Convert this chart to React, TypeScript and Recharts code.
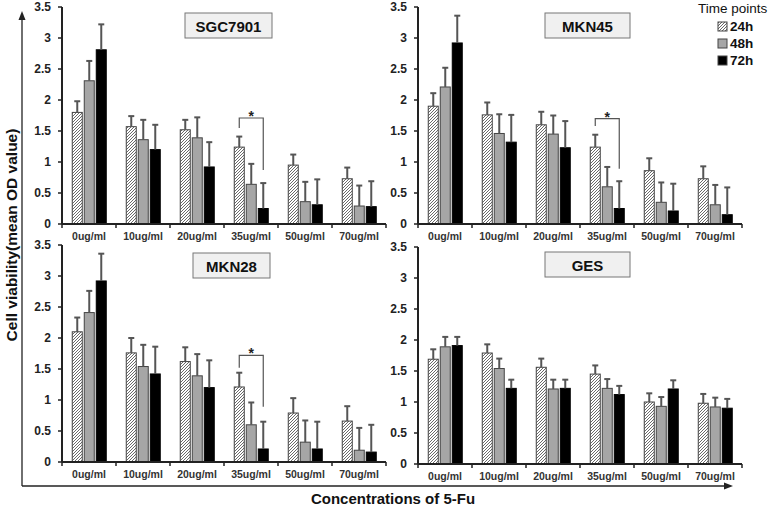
import { BarChart, Bar, XAxis, YAxis } from "recharts";

const concentrations = ["0ug/ml", "10ug/ml", "20ug/ml", "35ug/ml", "50ug/ml", "70ug/ml"];
const timePoints = ["24h", "48h", "72h"];
const yTicks = [0, 0.5, 1, 1.5, 2, 2.5, 3, 3.5];

// SGC7901
const sgcMean24 = [1.8, 1.57, 1.52, 1.24, 0.95, 0.73];
const sgcMean48 = [2.31, 1.36, 1.39, 0.64, 0.36, 0.29];
const sgcMean72 = [2.81, 1.2, 0.92, 0.25, 0.31, 0.28];
const sgcSd24 = [0.18, 0.17, 0.16, 0.17, 0.17, 0.18];
const sgcSd48 = [0.32, 0.32, 0.33, 0.33, 0.32, 0.33];
const sgcSd72 = [0.41, 0.4, 0.4, 0.41, 0.41, 0.41];

// MKN45
const mkn45Mean24 = [1.9, 1.76, 1.6, 1.24, 0.86, 0.73];
const mkn45Mean48 = [2.21, 1.46, 1.45, 0.6, 0.35, 0.31];
const mkn45Mean72 = [2.92, 1.32, 1.23, 0.25, 0.21, 0.15];
const mkn45Sd24 = [0.21, 0.2, 0.21, 0.2, 0.2, 0.2];
const mkn45Sd48 = [0.31, 0.31, 0.3, 0.32, 0.32, 0.32];
const mkn45Sd72 = [0.44, 0.44, 0.43, 0.44, 0.44, 0.44];

// MKN28
const mkn28Mean24 = [2.1, 1.76, 1.62, 1.21, 0.79, 0.66];
const mkn28Mean48 = [2.41, 1.54, 1.39, 0.6, 0.32, 0.19];
const mkn28Mean72 = [2.92, 1.42, 1.2, 0.21, 0.21, 0.16];
const mkn28Sd24 = [0.23, 0.24, 0.23, 0.23, 0.24, 0.24];
const mkn28Sd48 = [0.35, 0.35, 0.35, 0.36, 0.35, 0.36];
const mkn28Sd72 = [0.44, 0.44, 0.44, 0.44, 0.44, 0.44];

// GES
const gesMean24 = [1.69, 1.79, 1.56, 1.45, 1.0, 0.98];
const gesMean48 = [1.89, 1.54, 1.21, 1.22, 0.93, 0.92];
const gesMean72 = [1.91, 1.22, 1.22, 1.12, 1.21, 0.9];
const gesSd24 = [0.16, 0.14, 0.14, 0.14, 0.14, 0.15];
const gesSd48 = [0.16, 0.16, 0.15, 0.15, 0.15, 0.15];
const gesSd72 = [0.14, 0.14, 0.14, 0.14, 0.14, 0.15];

// significance bracket (24h vs 72h at 35ug/ml): top, left end, right end
const sgcBracket = [1.71, 1.55, 0.87];
const mkn45Bracket = [1.7, 1.58, 0.89];
const mkn28Bracket = [1.72, 1.52, 0.89];

const FONT = "'Liberation Sans', Arial, sans-serif";
const BAR_GAP = 2;
const PLOT_W = 324;
const PLOT_H = 217;

const seriesStyle = [
  { key: "h24", err: "e24", fill: "url(#hatch24)", stroke: "#444" },
  { key: "h48", err: "e48", fill: "#a6a6a6", stroke: "#444" },
  { key: "h72", err: "e72", fill: "#000", stroke: "#000" },
];

function buildRows(means: number[][], sds: number[][]) {
  return concentrations.map((c, i) => ({
    conc: c,
    h24: means[0][i],
    h48: means[1][i],
    h72: means[2][i],
    e24: sds[0][i],
    e48: sds[1][i],
    e72: sds[2][i],
  }));
}

function makeShape(valueKey: string, errKey: string, fill: string, stroke: string, bracket?: number[]) {
  return (props: any) => {
    const { x, y, width, height, payload } = props;
    const v = payload[valueKey];
    if (!v || !height) return <g />;
    const unit = height / v;
    const base = y + height;
    const cx = x + width / 2;
    const errTop = base - (v + payload[errKey]) * unit;
    let br = null;
    if (bracket && payload.conc === "35ug/ml") {
      const lx = cx - 2 * (width + BAR_GAP);
      const ty = base - bracket[0] * unit;
      const ly = base - bracket[1] * unit;
      const ry = base - bracket[2] * unit;
      br = (
        <g>
          <path d={`M${lx},${ly}V${ty}H${cx}V${ry}`} fill="none" stroke="#555" strokeWidth={1.2} />
          <text x={(lx + cx) / 2} y={ty + 3} textAnchor="middle" fontSize={14} fontWeight="bold" fill="#222" fontFamily={FONT}>
            *
          </text>
        </g>
      );
    }
    return (
      <g>
        <rect x={x} y={y} width={width} height={height} fill={fill} stroke={stroke} strokeWidth={1} />
        <line x1={cx} x2={cx} y1={y} y2={errTop} stroke="#555" strokeWidth={2} />
        <line x1={cx - 3} x2={cx + 3} y1={errTop} y2={errTop} stroke="#555" strokeWidth={2} />
        {br}
      </g>
    );
  };
}

const ConcTick = (props: any) => {
  const { x, y, payload, index } = props;
  const half = payload && payload.offset ? payload.offset : 27;
  const last = index === concentrations.length - 1;
  return (
    <g>
      <line x1={x - half} x2={x - half} y1={y} y2={y + 4} stroke="#222" strokeWidth={1.5} />
      {last && <line x1={x + half} x2={x + half} y1={y} y2={y + 4} stroke="#222" strokeWidth={1.5} />}
      <text x={x} y={y + 12} textAnchor="middle" dominantBaseline="central" fontSize={10.5} fontWeight="bold" fill="#333" fontFamily={FONT}>
        {payload.value}
      </text>
    </g>
  );
};

function Panel({ rows, left, top, yWidth, marginTop, bracket }: any) {
  return (
    <div style={{ position: "absolute", left, top }}>
      <BarChart
        width={yWidth + PLOT_W + 5}
        height={marginTop + PLOT_H + 21}
        data={rows}
        margin={{ top: marginTop, right: 5, bottom: 0, left: 0 }}
        barCategoryGap="19%"
        barGap={BAR_GAP}
      >
        <XAxis
          dataKey="conc"
          height={21}
          interval={0}
          tick={<ConcTick />}
          tickLine={false}
          tickSize={0}
          tickMargin={0}
          axisLine={{ stroke: "#222", strokeWidth: 2 }}
        />
        <YAxis
          width={yWidth}
          domain={[0, 3.5]}
          ticks={yTicks}
          interval={0}
          allowDataOverflow
          tickSize={4}
          tickMargin={7}
          axisLine={{ stroke: "#222", strokeWidth: 2 }}
          tickLine={{ stroke: "#222", strokeWidth: 1.5 }}
          tick={{ fontSize: 12, fontWeight: "bold", fill: "#222", fontFamily: FONT }}
        />
        {seriesStyle.map((s, i) => (
          <Bar
            key={s.key}
            dataKey={s.key}
            isAnimationActive={false}
            shape={makeShape(s.key, s.err, s.fill, s.stroke, i === 2 ? bracket : undefined)}
          />
        ))}
      </BarChart>
    </div>
  );
}

const titleBoxes = [
  { name: "SGC7901", x: 185, y: 13, w: 87 },
  { name: "MKN45", x: 545, y: 13, w: 85 },
  { name: "MKN28", x: 193, y: 253, w: 77 },
  { name: "GES", x: 545, y: 252, w: 85 },
];

export default function App() {
  const sgcRows = buildRows([sgcMean24, sgcMean48, sgcMean72], [sgcSd24, sgcSd48, sgcSd72]);
  const mkn45Rows = buildRows([mkn45Mean24, mkn45Mean48, mkn45Mean72], [mkn45Sd24, mkn45Sd48, mkn45Sd72]);
  const mkn28Rows = buildRows([mkn28Mean24, mkn28Mean48, mkn28Mean72], [mkn28Sd24, mkn28Sd48, mkn28Sd72]);
  const gesRows = buildRows([gesMean24, gesMean48, gesMean72], [gesSd24, gesSd48, gesSd72]);

  return (
    <div style={{ position: "absolute", left: 0, top: 0, width: 778, height: 511, background: "#fff", overflow: "hidden" }}>
      <svg width={778} height={511} style={{ position: "absolute", left: 0, top: 0 }}>
        <defs>
          <pattern id="hatch24" patternUnits="userSpaceOnUse" width={3} height={3}>
            <rect width={3} height={3} fill="#fff" />
            <path d="M-1,1 l2,-2 M0,3 l3,-3 M2,4 l2,-2" stroke="#6a6a6a" strokeWidth={1} />
          </pattern>
        </defs>
        {/* outer frame arrows */}
        <line x1={22} y1={486} x2={22} y2={18} stroke="#222" strokeWidth={1.3} />
        <polygon points="22,11 18.5,20 25.5,20" fill="#222" />
        <line x1={22} y1={486} x2={726} y2={486} stroke="#222" strokeWidth={1.3} />
        <polygon points="733,486 724,482.5 724,489.5" fill="#222" />
        <text
          x={11}
          y={235}
          transform="rotate(-90 11 235)"
          textAnchor="middle"
          dominantBaseline="central"
          fontSize={15.5}
          fontWeight="bold"
          fill="#111"
          fontFamily={FONT}
        >
          Cell viability(mean OD value)
        </text>
        <text x={393} y={498} textAnchor="middle" dominantBaseline="central" fontSize={15} fontWeight="bold" fill="#111" fontFamily={FONT}>
          Concentrations of 5-Fu
        </text>
        {/* legend */}
        <text x={698} y={8} dominantBaseline="central" fontSize={13.5} fill="#111" fontFamily={FONT}>
          Time points
        </text>
        {timePoints.map((t, i) => (
          <g key={t}>
            <rect x={718} y={22 + i * 17} width={9} height={9} fill={seriesStyle[i].fill} stroke="#444" strokeWidth={1} />
            <text x={730} y={26.5 + i * 17} dominantBaseline="central" fontSize={13.5} fontWeight="bold" fill="#111" fontFamily={FONT}>
              {t}
            </text>
          </g>
        ))}
        {titleBoxes.map((b) => (
          <g key={b.name}>
            <rect x={b.x} y={b.y} width={b.w} height={25} fill="#f0f0f0" stroke="#777" strokeWidth={1} />
            <text x={b.x + b.w / 2} y={b.y + 13} textAnchor="middle" dominantBaseline="central" fontSize={15} fontWeight="bold" fill="#111" fontFamily={FONT}>
              {b.name}
            </text>
          </g>
        ))}
      </svg>
      <Panel rows={sgcRows} left={0} top={0} yWidth={62} marginTop={7} bracket={sgcBracket} />
      <Panel rows={mkn45Rows} left={385} top={0} yWidth={33} marginTop={7} bracket={mkn45Bracket} />
      <Panel rows={mkn28Rows} left={0} top={230} yWidth={62} marginTop={15} bracket={mkn28Bracket} />
      <Panel rows={gesRows} left={385} top={232} yWidth={33} marginTop={15} />
    </div>
  );
}
